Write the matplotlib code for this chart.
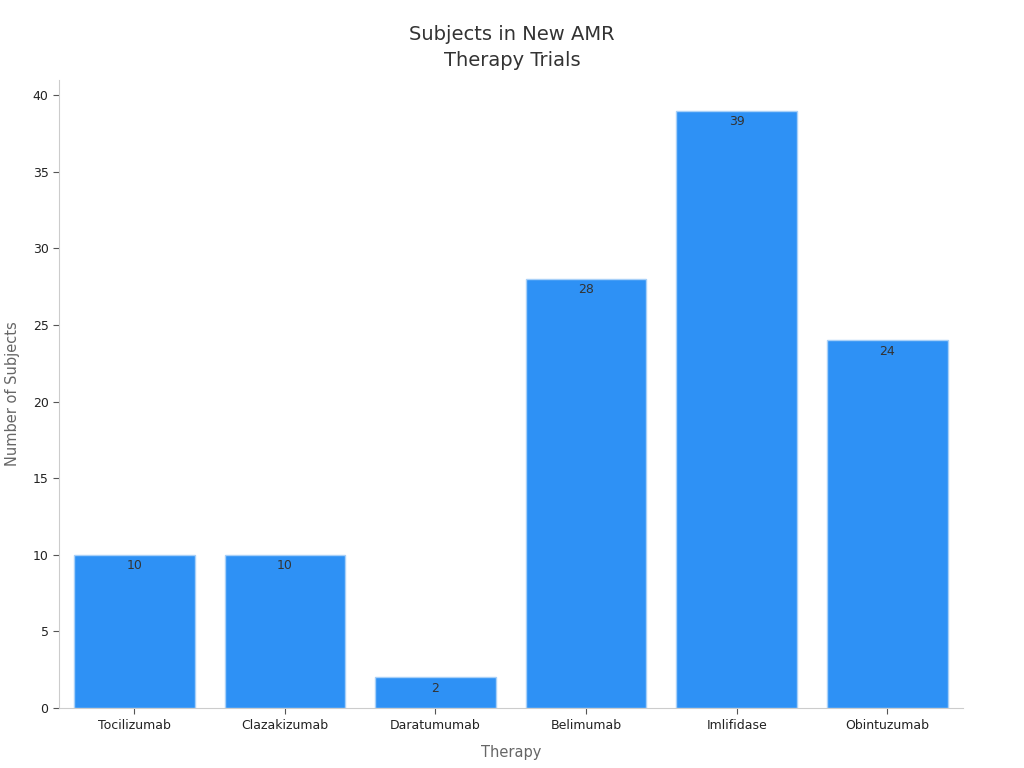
import matplotlib.pyplot as plt

# Data
therapies = ["Tocilizumab", "Clazakizumab", "Daratumumab", "Belimumab", "Imlifidase", "Obintuzumab"]
subjects = [10, 10, 2, 28, 39, 24]

BAR_COLOR = "#2E91F5"
TEXT_COLOR = "#333333"
LABEL_COLOR = "#666666"
SPINE_COLOR = "#cccccc"

fig = plt.figure(figsize=(10.24, 7.68), dpi=100)
ax = fig.add_axes([0.0576, 0.078, 0.8824, 0.818])

x = range(len(therapies))
bars = ax.bar(x, subjects, width=0.8, color=BAR_COLOR, edgecolor="#a8d0f8", linewidth=1)

# value labels just inside the top of each bar
for rect, val in zip(bars, subjects):
    ax.annotate(f"{val}", (rect.get_x() + rect.get_width() / 2, rect.get_height()),
                xytext=(0, -3), textcoords="offset points",
                ha="center", va="top", fontsize=9, color=TEXT_COLOR)

ax.set_xticks(list(x))
ax.set_xticklabels(therapies)
ax.set_xlim(-0.5, len(therapies) - 0.5)
ax.set_ylim(0, 41)
ax.set_yticks(range(0, 41, 5))

ax.set_xlabel("Therapy", fontsize=10.5, color=LABEL_COLOR, labelpad=10)
ax.set_ylabel("Number of Subjects", fontsize=10.5, color=LABEL_COLOR, labelpad=9)
fig.suptitle("Subjects in New AMR\nTherapy Trials", fontsize=14, color=TEXT_COLOR,
             y=0.968, linespacing=1.5)

for side in ["top", "right"]:
    ax.spines[side].set_visible(False)
for side in ["left", "bottom"]:
    ax.spines[side].set_color(SPINE_COLOR)
ax.tick_params(axis="both", colors="#555555", labelsize=9, labelcolor="#222222", length=4)

fig.savefig("out.png", dpi=100)
